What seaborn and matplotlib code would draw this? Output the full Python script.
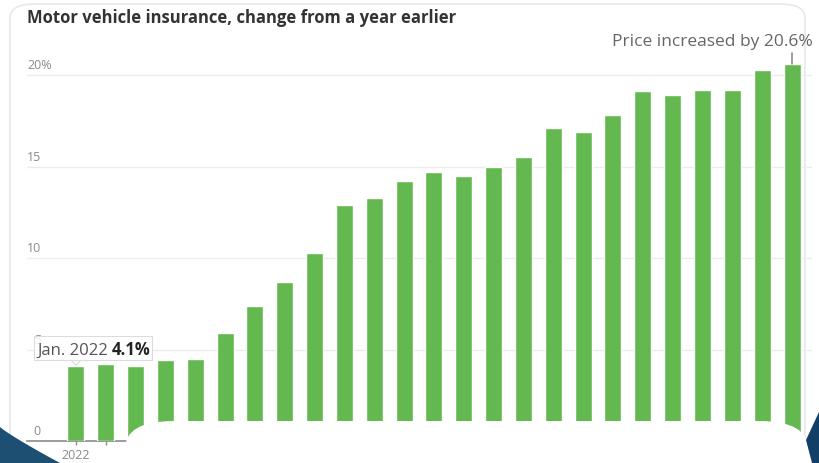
import numpy as np
import pandas as pd
import matplotlib.pyplot as plt
import seaborn as sns
from matplotlib.patches import FancyBboxPatch, Polygon, Rectangle

# Data
months = pd.date_range("2022-01-01", "2024-01-01", freq="MS").strftime("%b %Y").tolist()
change = [4.1, 4.2, 4.1, 4.4, 4.5, 5.9, 7.4, 8.7, 10.3, 12.9, 13.3, 14.2, 14.7,
          14.5, 15.0, 15.5, 17.1, 16.9, 17.8, 19.1, 18.9, 19.2, 19.2, 20.3, 20.6]
yticks = [0, 5, 10, 15, 20]
ytick_labels = ["0", "5", "10", "15", "20%"]
title = "Motor vehicle insurance, change from a year earlier"
first_label = "Jan. 2022"
first_value = "4.1%"
last_note = "Price increased by 20.6%"

df = pd.DataFrame({"month": months, "change": change})

W, H = 819, 463
sns.set_theme(style="white")
plt.rcParams["font.family"] = ["Open Sans", "DejaVu Sans"]

fig = plt.figure(figsize=(W / 100, H / 100), dpi=100)


def fx(x):
    return x / W


def fy(y):
    return 1 - y / H


# card border
card = FancyBboxPatch((fx(10), fy(470)), fx(805) - fx(10), fy(4) - fy(470),
                      boxstyle="round,pad=0,rounding_size=0.03",
                      transform=fig.transFigure, facecolor="white",
                      edgecolor="#e6e8ec", linewidth=1.2, zorder=0)
fig.add_artist(card)

ax = fig.add_axes([fx(27), fy(441), fx(812) - fx(27), fy(38.4) - fy(441)])
ax.patch.set_alpha(0)

sns.barplot(data=df, x="month", y="change", color="#63b950", saturation=1,
            width=0.57, ax=ax, zorder=3)

ax.set_xlim(-1.64, len(months) - 1 + 0.67)
ax.set_ylim(0, 22)
ax.set_xlabel("")
ax.set_ylabel("")
for s in ["top", "right", "left"]:
    ax.spines[s].set_visible(False)
ax.spines["bottom"].set_color("#8a8a8a")
ax.spines["bottom"].set_linewidth(1.2)

# gridlines + labels above lines (numbers right-aligned, "%" hangs out)
ax.set_yticks(yticks)
ax.set_yticklabels([])
ax.tick_params(axis="y", length=0)
for v, lab in zip(yticks, ytick_labels):
    if v > 0:
        ax.axhline(v, color="#ececec", linewidth=1, zorder=1)
    if lab.endswith("%"):
        ha, dx = "left", 0
    else:
        ha, dx = "right", 10
    ax.annotate(lab, xy=(0, v), xycoords=("axes fraction", "data"),
                xytext=(dx, 2), textcoords="offset points",
                ha=ha, va="bottom", fontsize=9, color="#8a8a8a", zorder=2)

# x axis ticks
ax.set_xticks(range(len(months)))
ax.set_xticklabels(["2022"] + [""] * (len(months) - 1), fontsize=9, color="#8a8a8a")
ax.tick_params(axis="x", direction="out", length=3, width=1, color="#8a8a8a",
               bottom=True, pad=3)

# title
fig.text(fx(27), fy(18), title, ha="left", va="center", fontsize=12,
         fontweight="bold", color="#333333")

# first bar callout
t1 = ax.annotate(first_label, xy=(0, change[0]), xytext=(-27.5, 11.2),
                 textcoords="offset points", ha="left", va="center",
                 fontsize=12, color="#555555", zorder=7)
fig.canvas.draw()
b1 = t1.get_window_extent()
t2 = ax.text(b1.x1 + 3, (b1.y0 + b1.y1) / 2, first_value, transform=None,
             ha="left", va="center", fontsize=12, fontweight="bold",
             color="#222222", zorder=7)
fig.canvas.draw()
b2 = t2.get_window_extent()
x0, x1 = b1.x0 - 4, b2.x1 + 2
y1 = max(b1.y1, b2.y1) + 5
y0 = min(b1.y0, b2.y0) - 1
ax.add_patch(Rectangle((x0, y0), x1 - x0, y1 - y0, transform=None,
                       facecolor=(1, 1, 1, 0.85), edgecolor="#dcdcdc", lw=0.8,
                       zorder=6))
cx = ax.transData.transform((0, change[0]))[0]
ax.add_patch(Polygon([(cx - 5, y0 + 0.5), (cx + 5, y0 + 0.5), (cx, y0 - 5)],
                     closed=True, transform=None, facecolor="white",
                     edgecolor="#dcdcdc", lw=0.8, zorder=5))

# last bar note
ax.annotate("", xy=(len(months) - 1, change[-1]), xytext=(0, 8),
            textcoords="offset points",
            arrowprops=dict(arrowstyle="-", color="#777777", lw=1,
                            shrinkA=0, shrinkB=0))
ax.annotate(last_note, xy=(len(months) - 1, change[-1]), xytext=(15, 10),
            textcoords="offset points", ha="right", va="bottom",
            fontsize=12.5, color="#666666")

# slide overlay: white panel and dark corners
panel = FancyBboxPatch((fx(125), fy(500)), fx(808) - fx(125), fy(421) - fy(500),
                       boxstyle="round,pad=0,rounding_size=0.06",
                       transform=fig.transFigure, facecolor="white",
                       edgecolor="none", zorder=10)
fig.add_artist(panel)

xs = np.linspace(0, 60, 30)
curve_y = 427 + 36 * (xs / 60) ** 0.9
pts = [(fx(x), fy(y)) for x, y in zip(xs, curve_y)] + [(fx(0), fy(463))]
fig.add_artist(Polygon(pts, closed=True, transform=fig.transFigure,
                       facecolor="#1d4f73", edgecolor="none", zorder=9))
fig.add_artist(Polygon([(fx(819), fy(412)), (fx(806), fy(440)), (fx(812), fy(463)),
                        (fx(819), fy(463))], closed=True, transform=fig.transFigure,
                       facecolor="#123f66", edgecolor="none", zorder=11))

fig.savefig("out.png", dpi=100)
